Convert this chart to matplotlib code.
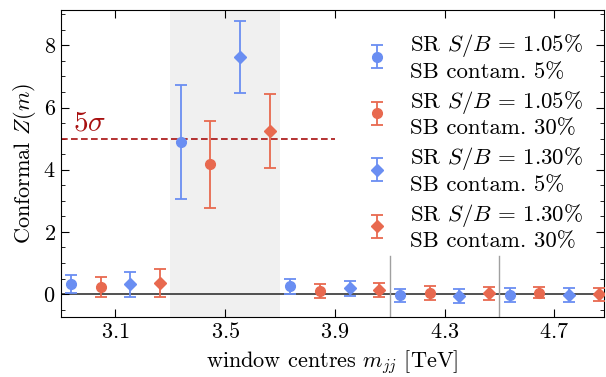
import numpy as np
import matplotlib
matplotlib.use("Agg")
import matplotlib.pyplot as plt

plt.rcParams['font.family'] = 'serif'
plt.rcParams['font.serif'] = ['cmr10']
plt.rcParams['mathtext.fontset'] = 'cm'
plt.rcParams['axes.formatter.use_mathtext'] = True
plt.rcParams['font.size'] = 16

# window centres and offsets of the four configurations
centres = [3.1, 3.5, 3.9, 4.3, 4.7]
offsets = [-0.162, -0.054, 0.054, 0.162]

labels = [
    "SR $S/B \\,=\\, 1.05\\%$\nSB contam. 5%",
    "SR $S/B \\,=\\, 1.05\\%$\nSB contam. 30%",
    "SR $S/B \\,=\\, 1.30\\%$\nSB contam. 5%",
    "SR $S/B \\,=\\, 1.30\\%$\nSB contam. 30%",
]
colors = ['#6a8ef2', '#e8694f', '#6a8ef2', '#e8694f']
markers = ['o', 'o', 'D', 'D']

# Z values per configuration, one per window
z_vals = [
    [0.33, 4.89, 0.25, -0.04, -0.03],
    [0.23, 4.17, 0.11, 0.04, 0.05],
    [0.31, 7.62, 0.19, -0.05, -0.02],
    [0.36, 5.24, 0.14, 0.03, 0.00],
]
z_errs = [
    [0.30, 1.84, 0.25, 0.22, 0.23],
    [0.33, 1.40, 0.22, 0.22, 0.18],
    [0.40, 1.15, 0.24, 0.23, 0.22],
    [0.46, 1.20, 0.23, 0.21, 0.21],
]

fig = plt.figure(figsize=(6.06, 3.77), dpi=100)
ax = fig.add_axes([0.100, 0.158, 0.897, 0.815])

ax.axvspan(3.3, 3.7, color='#f0f0f0', lw=0, zorder=0)
ax.axhline(0, color='#222222', lw=1.1, zorder=1)
for xv in [4.1, 4.5]:
    ax.axvline(xv, ymax=0.2, color='#a0a0a0', lw=1.0, zorder=1)
ax.hlines(5, 2.9, 3.9, colors='#a81010', linestyles=(0, (4, 2)), lw=1.2, zorder=2)
ax.text(2.947, 5.27, r'$5\sigma$', color='#a81010', fontsize=21, va='baseline')

for i in range(4):
    xs = np.array(centres) + offsets[i]
    ax.errorbar(xs, z_vals[i], yerr=z_errs[i], fmt=markers[i], color=colors[i],
                ms=7 if markers[i] == 'o' else 6.5, capsize=4.5, capthick=1.3,
                elinewidth=1.3, label=labels[i], zorder=3)

ax.set_xlim(2.9, 4.882)
ax.set_ylim(-0.75, 9.13)
ax.set_xticks([3.1, 3.5, 3.9, 4.3, 4.7])
ax.set_yticks([0, 2, 4, 6, 8])
ax.set_yticks(np.arange(-0.5, 9.01, 0.5), minor=True)
ax.tick_params(which='both', direction='in', top=True, right=True)
ax.tick_params(which='major', length=6)
ax.tick_params(which='minor', length=3)

ax.set_xlabel(r'window centres $m_{jj}$ [TeV]')
ax.set_ylabel(r'Conformal $Z(m)$')

ax.legend(loc='upper right', frameon=False, fontsize=16.5, handletextpad=0.45,
          labelspacing=0.3, bbox_to_anchor=(1.0, 0.995))

fig.savefig('out.png', dpi=100)
